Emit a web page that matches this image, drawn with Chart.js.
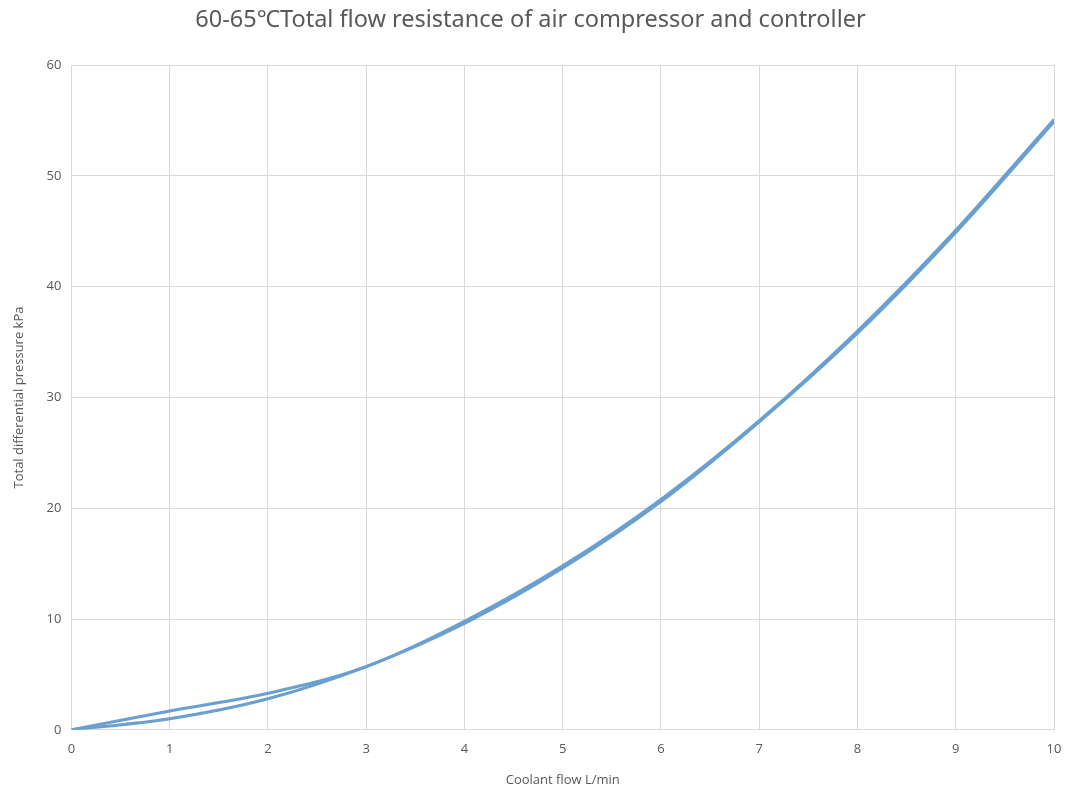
<!DOCTYPE html>
<html>
<head>
<meta charset="utf-8">
<script src="https://cdn.jsdelivr.net/npm/chart.js@4"></script>
<style>
  html, body { margin: 0; padding: 0; background: #fff; }
  #wrap { width: 1066px; height: 793px; }
</style>
</head>
<body>
<div id="wrap"><canvas id="flowChart" width="1066" height="793"></canvas></div>
<script>
// values
var flow = [0, 1, 2, 3, 4, 5, 6, 7, 8, 9, 10];
var pressureA = [0, 1.7, 3.3, 5.7, 9.8, 14.8, 20.8, 27.9, 36.0, 45.1, 55.1];
var pressureB = [0, 1.0, 2.8, 5.7, 9.6, 14.6, 20.6, 27.8, 35.8, 44.9, 54.9];
var yTicks = [0, 10, 20, 30, 40, 50, 60];

function toPoints(xs, ys) {
    var pts = [];
    for (var i = 0; i < xs.length; i++) {
        pts.push({ x: xs[i], y: ys[i] });
    }
    return pts;
}

var lineColor = "#6a9fd0";
var textColor = "#595959";
var gridColor = "#d9d9d9";

var ctx = document.getElementById('flowChart').getContext('2d');

var chart = new Chart(ctx, {
    type: 'line',
    data: {
        datasets: [
            {
                label: "A",
                data: toPoints(flow, pressureA),
                borderColor: lineColor,
                borderWidth: 3,
                pointRadius: 0,
                tension: 0.4,
                cubicInterpolationMode: 'monotone',
                fill: false
            },
            {
                label: "B",
                data: toPoints(flow, pressureB),
                borderColor: lineColor,
                borderWidth: 3,
                pointRadius: 0,
                tension: 0.4,
                cubicInterpolationMode: 'monotone',
                fill: false
            }
        ]
    },
    options: {
        responsive: false,
        animation: false,
        layout: { padding: { left: 7, right: 12, top: 2, bottom: 1 } },
        plugins: {
            legend: { display: false },
            tooltip: { enabled: false },
            title: {
                display: true,
                text: "60-65\u2103Total flow resistance of air compressor and controller",
                color: textColor,
                font: { family: "'Noto Sans', 'Open Sans', sans-serif", size: 23.5, weight: 'normal' },
                padding: { top: 4, bottom: 31 }
            }
        },
        scales: {
            x: {
                type: 'linear',
                min: 0,
                max: 10,
                afterFit: function (axis) {
                    // tick padding was eating into the right edge
                    axis.paddingRight = 0;
                },
                ticks: {
                    stepSize: 1,
                    color: textColor,
                    font: { family: "'Open Sans', sans-serif", size: 13 },
                    padding: 12
                },
                grid: { color: gridColor, lineWidth: 1, drawTicks: false },
                border: { color: gridColor },
                title: {
                    display: true,
                    text: "Coolant flow L/min",
                    color: textColor,
                    font: { family: "'Open Sans', sans-serif", size: 13 },
                    padding: { top: 3 }
                }
            },
            y: {
                min: 0,
                max: 60,
                afterBuildTicks: function (axis) {
                    axis.ticks = yTicks.map(function (v) { return { value: v }; });
                },
                ticks: {
                    color: textColor,
                    font: { family: "'Open Sans', sans-serif", size: 13 },
                    padding: 10
                },
                grid: { color: gridColor, lineWidth: 1, drawTicks: false },
                border: { color: gridColor },
                title: {
                    display: true,
                    text: "Total differential pressure kPa",
                    color: textColor,
                    font: { family: "'Open Sans', sans-serif", size: 13 },
                    padding: { bottom: 10 }
                }
            }
        }
    }
});
</script>
</body>
</html>
